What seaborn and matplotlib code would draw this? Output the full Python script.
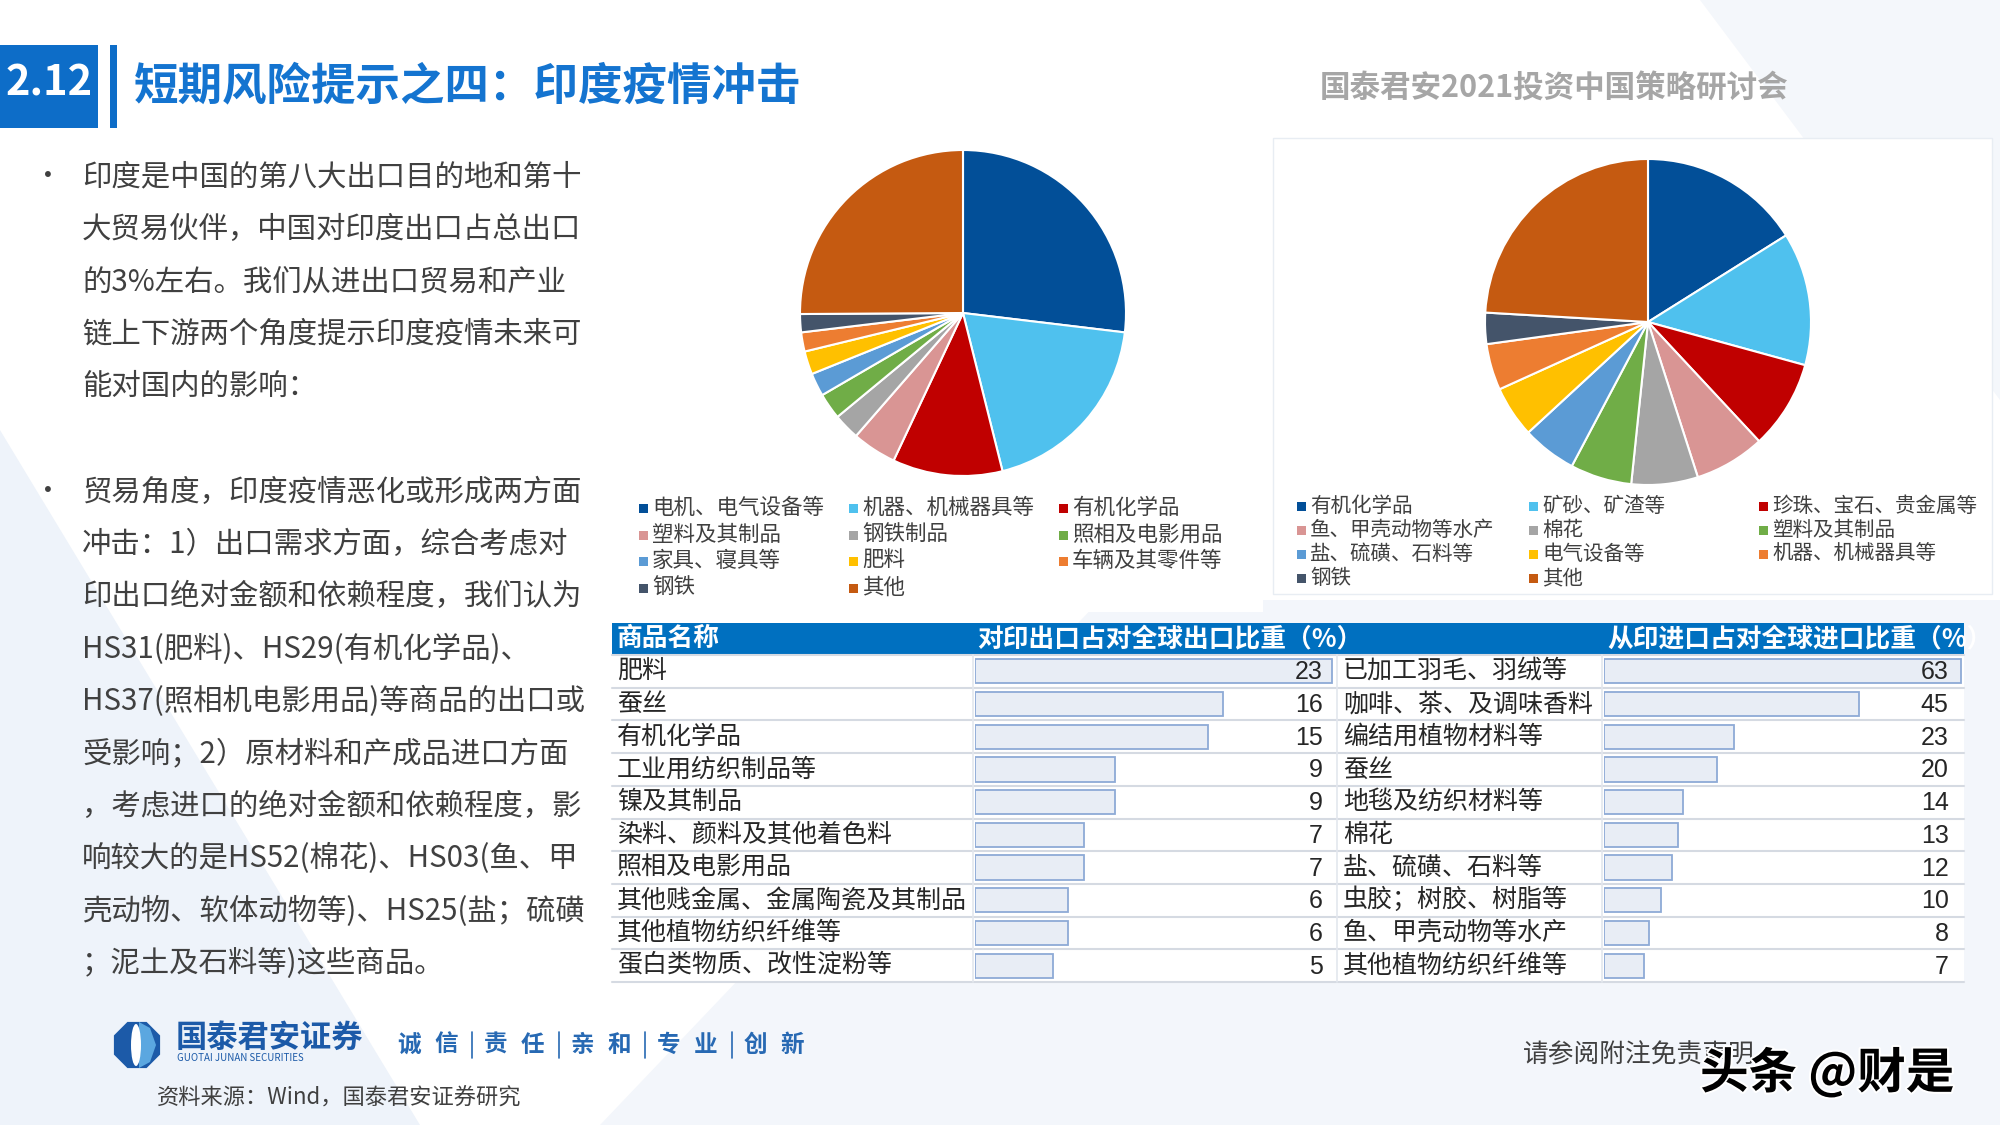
import numpy as np
import pandas as pd
import matplotlib
matplotlib.use('Agg')
import matplotlib.pyplot as plt
import matplotlib.transforms as mtransforms
import matplotlib.patheffects as pe
from matplotlib.patches import Rectangle, Polygon, RegularPolygon, Ellipse
import seaborn as sns

W, H = 2000, 1125

# ---------------- data ----------------
title_num = '2.12'
title = '短期风险提示之四：印度疫情冲击'
header_right = '国泰君安2021投资中国策略研讨会'

para1 = ['印度是中国的第八大出口目的地和第十',
         '大贸易伙伴，中国对印度出口占总出口',
         '的3%左右。我们从进出口贸易和产业',
         '链上下游两个角度提示印度疫情未来可',
         '能对国内的影响：']
para2 = ['贸易角度，印度疫情恶化或形成两方面',
         '冲击：1）出口需求方面，综合考虑对',
         '印出口绝对金额和依赖程度，我们认为',
         'HS31(肥料)、HS29(有机化学品)、',
         'HS37(照相机电影用品)等商品的出口或',
         '受影响；2）原材料和产成品进口方面',
         '，考虑进口的绝对金额和依赖程度，影',
         '响较大的是HS52(棉花)、HS03(鱼、甲',
         '壳动物、软体动物等)、HS25(盐；硫磺',
         '；泥土及石料等)这些商品。']

exp_pie_labels = ['电机、电气设备等', '机器、机械器具等', '有机化学品',
                  '塑料及其制品', '钢铁制品', '照相及电影用品',
                  '家具、寝具等', '肥料', '车辆及其零件等',
                  '钢铁', '其他']
exp_pie_values = [26.9, 19.2, 10.9, 4.4, 2.6, 2.6, 2.3, 2.3, 1.9, 1.8, 25.1]

imp_pie_labels = ['有机化学品', '矿砂、矿渣等', '珍珠、宝石、贵金属等',
                  '鱼、甲壳动物等水产', '棉花', '塑料及其制品',
                  '盐、硫磺、石料等', '电气设备等', '机器、机械器具等',
                  '钢铁', '其他']
imp_pie_values = [16.1, 13.2, 8.8, 7.0, 6.6, 6.1, 5.4, 5.1, 4.6, 3.1, 24.1]

pie_colors = ['#024F98', '#4FC1EE', '#C00000', '#D99594', '#A5A5A5', '#70AD47',
              '#5B9BD5', '#FFC000', '#ED7D31', '#44546A', '#C55A11']

table_headers = ['商品名称', '对印出口占对全球出口比重（%）', '从印进口占对全球进口比重（%）']
exp_names = ['肥料', '蚕丝', '有机化学品', '工业用纺织制品等', '镍及其制品',
             '染料、颜料及其他着色料', '照相及电影用品', '其他贱金属、金属陶瓷及其制品',
             '其他植物纺织纤维等', '蛋白类物质、改性淀粉等']
exp_vals = [23, 16, 15, 9, 9, 7, 7, 6, 6, 5]
imp_names = ['已加工羽毛、羽绒等', '咖啡、茶、及调味香料', '编结用植物材料等', '蚕丝',
             '地毯及纺织材料等', '棉花', '盐、硫磺、石料等', '虫胶；树胶、树脂等',
             '鱼、甲壳动物等水产', '其他植物纺织纤维等']
imp_vals = [63, 45, 23, 20, 14, 13, 12, 10, 8, 7]

logo_cn = '国泰君安证券'
logo_en = 'GUOTAI JUNAN SECURITIES'
slogan_words = ['诚信', '责任', '亲和', '专业', '创新']
source = '资料来源：Wind，国泰君安证券研究'
disclaimer = '请参阅附注免责声明'
watermark = '头条 @财是'

# ---------------- setup ----------------
sns.set_theme(style='white')
plt.rcParams['font.family'] = ['Noto Sans CJK SC', 'DejaVu Sans']

fig = plt.figure(figsize=(20, 11.25), dpi=100)
fig.patch.set_facecolor('white')
bg = fig.add_axes([0, 0, 1, 1])
bg.set_xlim(0, W)
bg.set_ylim(H, 0)
bg.axis('off')


def ax_px(x0, y0, x1, y1):
    return fig.add_axes([x0 / W, 1 - y1 / H, (x1 - x0) / W, (y1 - y0) / H])


# background soft shapes
bg.add_patch(Polygon([(0, 430), (420, 1125), (0, 1125)], closed=True,
                     color='#EEF3FA', lw=0, zorder=0))
bg.add_patch(Polygon([(600, 1125), (1100, 600), (2000, 600), (2000, 1125)], closed=True,
                     color='#F3F6FB', lw=0, zorder=0))
bg.add_patch(Polygon([(1700, 0), (2000, 0), (2000, 400)], closed=True,
                     color='#F4F7FB', lw=0, zorder=0))
# white panels behind pies
bg.add_patch(Rectangle((625, 134), 638, 478, color='white', lw=0, zorder=1))
bg.add_patch(Rectangle((1273, 138), 719, 456, facecolor='white', edgecolor='#E8EDF3',
                       lw=1, zorder=1))

# ---------------- header ----------------
bg.add_patch(Rectangle((0, 45), 98, 83, color='#0D6DC8', lw=0, zorder=2))
bg.add_patch(Rectangle((110, 45), 7, 83, color='#0D6DC8', lw=0, zorder=2))
bg.text(49, 84, title_num, color='white', fontsize=30, fontweight='bold',
        ha='center', va='center', zorder=3)
bg.text(134, 86, title, color='#1474D0', fontsize=32, fontweight='bold',
        ha='left', va='center', zorder=3)
bg.text(1320, 88, header_right, color='#A6A6A6', fontsize=22, fontweight='bold',
        ha='left', va='center', zorder=3)

# ---------------- left text ----------------
y0, dy = 177, 52.4
for i, line in enumerate(para1):
    y = y0 + i * dy
    if i == 0:
        bg.text(48, y, '•', fontsize=20, color='#404040', ha='center', va='center', zorder=3)
    bg.text(82, y, line, fontsize=21.2, color='#404040', ha='left', va='center', zorder=3)
y0 = 492
for i, line in enumerate(para2):
    y = y0 + i * dy
    if i == 0:
        bg.text(48, y, '•', fontsize=20, color='#404040', ha='center', va='center', zorder=3)
    bg.text(82, y, line, fontsize=21.2, color='#404040', ha='left', va='center', zorder=3)


# ---------------- pies ----------------
def draw_pie(cx, cy, r, vals):
    pad = 1.05
    ax = ax_px(cx - r * pad, cy - r * pad, cx + r * pad, cy + r * pad)
    ax.pie(vals, colors=pie_colors, startangle=90, counterclock=False, radius=1,
           wedgeprops=dict(edgecolor='white', linewidth=1.5))
    ax.set_xlim(-pad, pad)
    ax.set_ylim(-pad, pad)
    ax.axis('off')
    ax.patch.set_alpha(0)
    return ax


draw_pie(963, 313, 163, exp_pie_values)
draw_pie(1648, 322, 163, imp_pie_values)


def draw_legend(labels, xs, ys, fs):
    for i, lab in enumerate(labels):
        r, c = divmod(i, 3)
        x, y = xs[c], ys[r]
        bg.add_patch(Rectangle((x - 4.5, y - 4.5), 9, 9, color=pie_colors[i], lw=0, zorder=3))
        bg.text(x + 9, y, lab, fontsize=fs, color='#404040', ha='left', va='center', zorder=3)


draw_legend(exp_pie_labels, [643, 853, 1063], [508, 535, 561, 588], 15.5)
draw_legend(imp_pie_labels, [1301, 1533, 1763], [506, 530, 554, 578], 14.8)

# ---------------- table ----------------
tx0, tx1 = 612, 1964
hy0, hy1 = 623, 655
rh = 32.7
ry0 = hy1
ry1 = ry0 + rh * len(exp_names)
col_x = [612, 973, 1337, 1602]

bg.add_patch(Rectangle((tx0, ry0), tx1 - tx0, ry1 - ry0, color='white', lw=0, zorder=2))
bg.add_patch(Rectangle((tx0, hy0), tx1 - tx0, hy1 - hy0, color='#0070C0', lw=0, zorder=2))
clip_rect = Rectangle((tx0, hy0), tx1 - tx0, hy1 - hy0, transform=bg.transData)
for txt, x in zip(table_headers, [617, 977, 1607]):
    t = bg.text(x, (hy0 + hy1) / 2, txt, color='white', fontsize=18.5, fontweight='bold',
                ha='left', va='center', zorder=3)
    t.set_clip_path(clip_rect)

for i in range(len(exp_names) + 1):
    y = ry0 + i * rh
    bg.plot([tx0, tx1], [y, y], color='#D5DAE2', lw=1.5, zorder=2.5)
for x in col_x[1:]:
    bg.plot([x, x], [ry0, ry1], color='#E3E7EE', lw=1.2, zorder=2.5)

for i, (n1, n2) in enumerate(zip(exp_names, imp_names)):
    yc = ry0 + (i + 0.5) * rh
    bg.text(617, yc, n1, fontsize=18, color='#262626', ha='left', va='center', zorder=3)
    bg.text(1343, yc, n2, fontsize=18, color='#262626', ha='left', va='center', zorder=3)


def draw_bars(x0, x1, names, vals, xmax, vx):
    ax = ax_px(x0, ry0, x1, ry1)
    df = pd.DataFrame({'name': names, 'val': vals})
    sns.barplot(data=df, x='val', y='name', orient='h', ax=ax, color='#E8EDF5',
                saturation=1, edgecolor='#8EAAD6', linewidth=1.3, width=0.74)
    ax.set_xlim(0, xmax)
    ax.set_ylim(len(names) - 0.5, -0.5)
    ax.axis('off')
    ax.patch.set_alpha(0)
    tr = mtransforms.blended_transform_factory(ax.transAxes, ax.transData)
    for i, v in enumerate(vals):
        ax.text(vx, i + 0.03, str(v), transform=tr, ha='right', va='center',
                fontsize=18, color='#262626', family='Liberation Sans')
    return ax


draw_bars(975, 1335, exp_names, exp_vals, 23.2, 0.967)
draw_bars(1604, 1964, imp_names, imp_vals, 63.5, 0.957)

# ---------------- footer ----------------
bg.add_patch(RegularPolygon((137, 1045), 8, radius=25, orientation=np.pi / 8,
                            color='#1C5AA8', lw=0, zorder=3))
bg.add_patch(Polygon([(139, 1022), (150, 1028), (156, 1045), (150, 1062), (139, 1068)],
                     closed=True, color='#5BA7E0', lw=0, zorder=4))
bg.add_patch(Ellipse((136, 1045), 10, 42, color='white', lw=0, zorder=4))
bg.text(176, 1038, logo_cn, fontsize=22.5, fontweight='bold', color='#1C5AA8',
        ha='left', va='center', zorder=3)
bg.text(177, 1058, logo_en, fontsize=7, color='#1C5AA8', ha='left', va='center', zorder=3)

sx0, sstep, sgap = 409, 86.5, 37
for k, word in enumerate(slogan_words):
    xa = sx0 + k * sstep
    bg.text(xa, 1045, word[0], fontsize=17, fontweight='bold', color='#2769B3',
            ha='center', va='center', zorder=3)
    bg.text(xa + sgap, 1045, word[1], fontsize=17, fontweight='bold', color='#2769B3',
            ha='center', va='center', zorder=3)
    if k < len(slogan_words) - 1:
        xs = xa + sgap + 26
        bg.plot([xs, xs], [1032, 1058], color='#2769B3', lw=1.2, zorder=3)

bg.text(157, 1098, source, fontsize=16, color='#404040', ha='left', va='center', zorder=3)
bg.text(1523, 1055, disclaimer, fontsize=18.5, color='#404040', ha='left', va='center', zorder=3)
bg.text(1700, 1073, watermark, fontsize=35, fontweight='bold', color='black',
        ha='left', va='center', zorder=5,
        path_effects=[pe.withStroke(linewidth=3, foreground='white')])

fig.savefig('out.png', dpi=100, facecolor=fig.get_facecolor())
